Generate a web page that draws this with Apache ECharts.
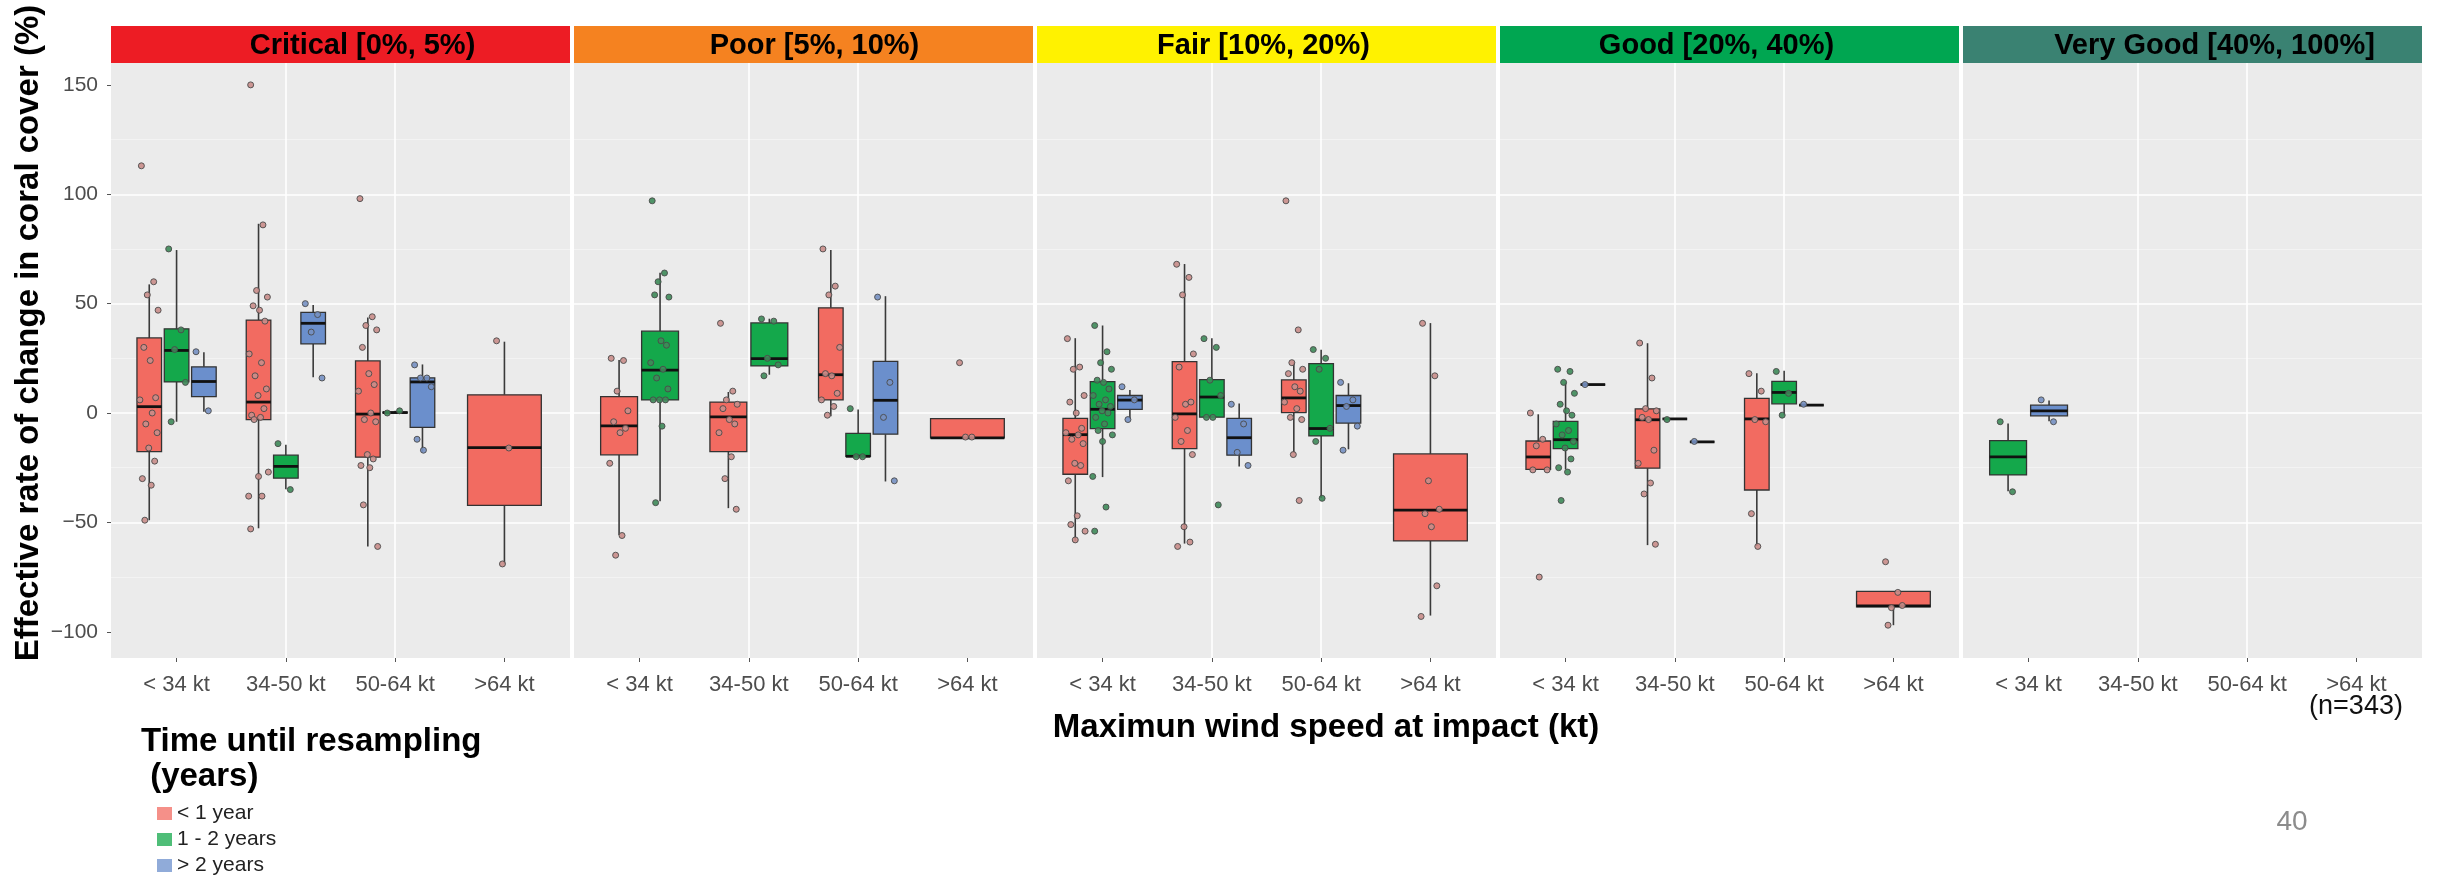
<!DOCTYPE html>
<html>
<head>
<meta charset="utf-8">
<script src="https://cdn.jsdelivr.net/npm/echarts@6/dist/echarts.min.js"></script>
<style>
  html, body { margin: 0; padding: 0; background: #fff; }
  #chart { width: 2450px; height: 879px; }
</style>
</head>
<body>
<div id="chart"></div>
<script>
// reef condition facets and wind categories
const panelNames = ['Critical [0%, 5%)', 'Poor [5%, 10%)', 'Fair [10%, 20%)', 'Good [20%, 40%)', 'Very Good [40%, 100%]']
const windCats = ['< 34 kt', '34-50 kt', '50-64 kt', '>64 kt']
const groupNames = ['< 1 year', '1 - 2 years', '> 2 years']
const yTicks = [-100, -50, 0, 50, 100, 150]

// box stats: [panel, wind category, lower whisker, Q1, median, Q3, upper whisker]
const boxLt1 = [
  [0, 0, -49, -17.7, 2.9, 34.3, 58.8],
  [0, 1, -52.7, -3, 5, 42.5, 86.5],
  [0, 2, -61, -20.2, -0.5, 23.8, 43.7],
  [0, 3, -69, -42.2, -15.8, 8.3, 32.6],
  [1, 0, -55.8, -19.1, -5.9, 7.5, 24.2],
  [1, 1, -43.5, -17.7, -1.8, 5, 9.6],
  [1, 2, -1.5, 6, 17.5, 48.1, 74.5],
  [1, 3, -11.4, -11.4, -11.4, -2.6, -2.6],
  [2, 0, -58.5, -28, -9.9, -2.5, 34.2],
  [2, 1, -59.7, -16.3, -0.4, 23.5, 68.1],
  [2, 2, -18.2, 0.2, 6.9, 15.1, 23.3],
  [2, 3, -92.6, -58.5, -44.4, -18.7, 41.1],
  [3, 0, -25.8, -25.8, -20.1, -12.8, -0.6],
  [3, 1, -60.4, -25.2, -3.1, 1.9, 31.9],
  [3, 2, -60.8, -35.2, -2.7, 6.7, 18.2],
  [3, 3, -97, -88.6, -88.2, -81.5, -81.5],
]
const box1to2 = [
  [0, 0, -4, 14.2, 28.6, 38.5, 74.5],
  [0, 1, -34.8, -29.8, -24.4, -19.3, -14.5],
  [0, 2, 0, 0, 0.2, 0.4, 1],
  [1, 0, -40.3, 6, 19.6, 37.4, 64.1],
  [1, 1, 17.5, 21.5, 24.9, 41.2, 43.1],
  [1, 2, -19.8, -19.8, -19.8, -9.3, 1.6],
  [2, 0, -29.3, -7.1, 1.7, 14.3, 40],
  [2, 1, -2.1, -1.9, 7.3, 15.3, 34.2],
  [2, 2, -38.8, -10.5, -7.1, 22.6, 28.9],
  [3, 0, -25.8, -16.3, -12.2, -3.8, 14],
  [3, 1, -2.7, -2.7, -2.7, -2.7, -2.7],
  [3, 2, -1, 4.2, 9.4, 14.5, 19.3],
  [4, 0, -35.8, -28.3, -20.1, -12.6, -4.8],
]
const boxGt2 = [
  [0, 0, 0.6, 7.5, 14.4, 21.1, 27.8],
  [0, 1, 16.3, 31.6, 41, 46, 49.4],
  [0, 2, -17.7, -6.6, 14.2, 16.1, 22.2],
  [1, 2, -31.3, -9.7, 5.8, 23.6, 53.4],
  [2, 0, -2.9, 1.7, 5.9, 8, 10.5],
  [2, 1, -24.5, -19.3, -11.3, -2.5, 4.4],
  [2, 2, -16.6, -4.6, 3.4, 8, 13.6],
  [3, 0, 13, 13, 13, 13, 13],
  [3, 1, -13.2, -13.2, -13.2, -13.2, -13.2],
  [3, 2, 3.6, 3.6, 3.6, 3.6, 3.6],
  [4, 0, -3.8, -1.3, 1, 3.6, 5.7],
]

// observations: [panel, wind category, values]
const ptsLt1 = [
  [0, 0, [113, 60, 54, 47, 30, 24, 7, 6, 0, -5, -9, -16, -22, -30, -33, -49]],
  [0, 1, [150, 86, 56, 53, 49, 47, 42, 27, 23, 17, 11, 8, 2, -1, -2, -3, -27, -29, -38, -38, -53]],
  [0, 2, [98, 44, 40, 38, 30, 18, 13, 10, 0, -3, -4, -19, -21, -24, -25, -42, -61]],
  [0, 3, [33, -16, -69]],
  [1, 0, [25, 24, 10, 1, -4, -9, -7, -23, -56, -65]],
  [1, 1, [41, 10, 6, 4, 2, -3, -5, -9, -20, -30, -44]],
  [1, 2, [75, 58, 54, 30, 18, 17, 9, 6, 3, -1]],
  [1, 3, [23, -11, -11]],
  [2, 0, [34, 21, 20, 8, 5, 0, -7, -9, -10, -12, -14, -23, -24, -31, -47, -51, -54, -58]],
  [2, 1, [68, 62, 54, 27, 21, 4, 5, -2, -8, -13, -19, -52, -59, -61]],
  [2, 2, [97, 38, 23, 20, 18, 12, 10, 5, 2, -2, -3, -19, -40]],
  [2, 3, [41, 17, -31, -44, -46, -52, -79, -93]],
  [3, 0, [0, -12, -15, -26, -26, -75]],
  [3, 1, [32, 16, 2, 1, -2, -3, -17, -23, -32, -37, -60]],
  [3, 2, [18, 10, -3, -4, -46, -61]],
  [3, 3, [-68, -82, -89, -88, -97]],
]
const pts1to2 = [
  [0, 0, [75, 38, 29, 14, -4]],
  [0, 1, [-14, -35]],
  [0, 2, [0, 1]],
  [1, 0, [97, 64, 60, 53, 54, 33, 31, 23, 20, 16, 11, 6, 6, 6, -6, -41]],
  [1, 1, [43, 42, 25, 22, 17]],
  [1, 2, [2, -20, -20]],
  [2, 0, [40, 28, 23, 20, 15, 14, 11, 8, 6, 4, 3, 1, 0, -2, -5, -8, -10, -13, -29, -43, -54]],
  [2, 1, [34, 30, 15, 8, -2, -2, -42]],
  [2, 2, [29, 25, 20, -7, -13, -39]],
  [3, 0, [20, 19, 14, 9, 4, 1, -1, -5, -8, -10, -13, -16, -21, -25, -27, -40]],
  [3, 1, [-3]],
  [3, 2, [19, 9, -1]],
  [4, 0, [-4, -36]],
]
const ptsGt2 = [
  [0, 0, [28, 1]],
  [0, 1, [50, 45, 37, 16]],
  [0, 2, [22, 16, 16, 12, -12, -17]],
  [1, 2, [53, 14, -2, -31]],
  [2, 0, [12, 6, -3]],
  [2, 1, [4, -5, -18, -24]],
  [2, 2, [14, 6, 3, -6, -17]],
  [3, 0, [13]],
  [3, 1, [-13]],
  [3, 2, [4]],
  [4, 0, [6, -4]],
]

// layout / style
const PANEL_LEFT = 111
const PANEL_STEP = 463
const PANEL_W = 459
const PANEL_TOP = 63
const PANEL_H = 595
const STRIP_TOP = 26
const stripTextShift = [22, 11, -3, -13, 22]
const stripColors = ['#ED1C24', '#F58220', '#FFF200', '#00A651', '#3A8272']
const boxColors = ['#F26B61', '#14A84B', '#6B8FCC']
const dotColors = ['#C98D89', '#3E8A59', '#7690C2']
const FONT = '"Liberation Sans", Arial, sans-serif'
const JITTER = [-0.8, 0.45, -0.2, 0.9, -0.55, 0.1, 0.65, -0.95, 0.3, -0.35, 0.8, -0.05, 0.55, -0.7, 0.2, -0.45, 1, 0, -1, 0.35]

const boxSets = [boxLt1, box1to2, boxGt2]
const ptSets = [ptsLt1, pts1to2, ptsGt2]

// which groups are present in each panel/category, for dodging
const present = {}
boxSets.forEach((set, g) => {
  set.forEach((r) => {
    const k = r[0] + '_' + r[1]
    ;(present[k] = present[k] || []).push(g)
  })
})

const dodge = (p, c, g) => {
  const list = present[p + '_' + c]
  const slot = 0.75 / list.length
  return { x: c + 1 - 0.375 + slot * (list.indexOf(g) + 0.5), w: slot * 0.9 }
}

const renderBox = (params, api) => {
  const x = api.value(0)
  const lo = api.coord([x, api.value(1)])
  const q1 = api.coord([x, api.value(2)])
  const med = api.coord([x, api.value(3)])
  const q3 = api.coord([x, api.value(4)])
  const hi = api.coord([x, api.value(5)])
  const half = api.size([api.value(6), 0])[0] / 2
  const cx = q1[0]
  const lineStyle = { stroke: '#3a3a3a', lineWidth: 1.6 }
  return {
    type: 'group',
    children: [
      { type: 'line', shape: { x1: cx, y1: q3[1], x2: cx, y2: hi[1] }, style: lineStyle },
      { type: 'line', shape: { x1: cx, y1: q1[1], x2: cx, y2: lo[1] }, style: lineStyle },
      {
        type: 'rect',
        shape: { x: cx - half, y: q3[1], width: half * 2, height: q1[1] - q3[1] },
        style: { fill: api.visual('color'), stroke: '#333', lineWidth: 1.3 },
      },
      {
        type: 'line',
        shape: { x1: cx - half, y1: med[1], x2: cx + half, y2: med[1] },
        style: { stroke: '#111', lineWidth: 2.8 },
      },
    ],
  }
}

const grids = []
const xAxes = []
const yAxes = []
const series = []
const graphics = []

panelNames.forEach((name, p) => {
  const left = PANEL_LEFT + p * PANEL_STEP
  grids.push({
    left: left,
    top: PANEL_TOP,
    width: PANEL_W,
    height: PANEL_H,
    show: true,
    backgroundColor: '#EBEBEB',
    borderWidth: 0,
  })
  xAxes.push({
    type: 'value',
    gridIndex: p,
    min: 0.4,
    max: 4.6,
    minInterval: 1,
    maxInterval: 1,
    axisLine: { show: false, onZero: false },
    axisTick: { show: true, length: 4, lineStyle: { color: '#555' }, customValues: [1, 2, 3, 4] },
    axisLabel: {
      customValues: [1, 2, 3, 4],
      formatter: (v) => windCats[Math.round(v) - 1] || '',
      fontSize: 22,
      fontFamily: FONT,
      color: '#4D4D4D',
      margin: 16,
    },
    splitLine: { show: true, showMinLine: false, showMaxLine: false, lineStyle: { color: '#fff', width: 1.6 } },
  })
  yAxes.push({
    type: 'value',
    gridIndex: p,
    min: -112,
    max: 160,
    minInterval: 50,
    maxInterval: 50,
    axisLine: { show: false, onZero: false },
    axisTick: { show: p === 0, length: 4, lineStyle: { color: '#555' }, customValues: yTicks },
    axisLabel: {
      show: p === 0,
      customValues: yTicks,
      formatter: (v) => (v < 0 ? '\u2212' + Math.abs(v) : String(v)),
      fontSize: 21,
      fontFamily: FONT,
      color: '#4D4D4D',
      margin: 13,
    },
    splitLine: { show: true, showMinLine: false, showMaxLine: false, lineStyle: { color: '#fff', width: 1.6 } },
    minorTick: { show: false, splitNumber: 2 },
    minorSplitLine: { show: true, lineStyle: { color: '#F5F5F5', width: 0.8 } },
  })

  // facet strip
  graphics.push({
    type: 'rect',
    shape: { x: left, y: STRIP_TOP, width: PANEL_W, height: PANEL_TOP - STRIP_TOP },
    style: { fill: stripColors[p] },
  })
  graphics.push({
    type: 'text',
    x: left + PANEL_W / 2 + stripTextShift[p],
    y: (STRIP_TOP + PANEL_TOP) / 2 + 1,
    style: {
      text: name,
      fontSize: 29,
      fontWeight: 'bold',
      fontFamily: FONT,
      fill: '#000',
      align: 'center',
      verticalAlign: 'middle',
      textAlign: 'center',
      textVerticalAlign: 'middle',
    },
  })

  boxSets.forEach((set, g) => {
    const rows = set
      .filter((r) => r[0] === p)
      .map((r) => {
        const d = dodge(p, r[1], g)
        return [d.x, r[2], r[3], r[4], r[5], r[6], d.w]
      })
    series.push({
      type: 'custom',
      name: groupNames[g],
      xAxisIndex: p,
      yAxisIndex: p,
      renderItem: renderBox,
      encode: { x: 0, y: [1, 2, 3, 4, 5] },
      itemStyle: { color: boxColors[g] },
      data: rows,
      z: 2,
    })
  })
})

panelNames.forEach((name, p) => {
  ptSets.forEach((set, g) => {
    const pts = []
    set
      .filter((r) => r[0] === p)
      .forEach((r) => {
        const d = dodge(p, r[1], g)
        r[2].forEach((v, i) => {
          pts.push([d.x + JITTER[i % JITTER.length] * 0.09, v])
        })
      })
    series.push({
      type: 'scatter',
      name: groupNames[g],
      xAxisIndex: p,
      yAxisIndex: p,
      symbol: 'circle',
      symbolSize: 6,
      itemStyle: { color: dotColors[g], borderColor: '#4a4a4a', borderWidth: 1, opacity: 0.9 },
      data: pts,
      z: 3,
    })
  })
})

// titles and annotations
const centerText = (x, y, text, size, extra) => ({
  type: 'text',
  x: x,
  y: y,
  ...extra,
  style: {
    text: text,
    fontSize: size,
    fontFamily: FONT,
    fill: '#000',
    align: 'center',
    verticalAlign: 'middle',
    textAlign: 'center',
    textVerticalAlign: 'middle',
    ...(extra && extra.styleExtra),
  },
})

graphics.push(centerText(29, 333, 'Effective rate of change in coral cover (%)', 33, {
  rotation: Math.PI / 2,
  styleExtra: { fontWeight: 'bold' },
}))
graphics.push(centerText(1326, 728, 'Maximun wind speed at impact (kt)', 33, { styleExtra: { fontWeight: 'bold' } }))
graphics.push(centerText(2356, 707, '(n=343)', 27, { styleExtra: { fill: '#111' } }))
graphics.push(centerText(2292, 822, '40', 28, { styleExtra: { fill: '#8C8C8C' } }))
graphics.push({
  type: 'text',
  x: 141,
  y: 724,
  style: {
    text: 'Time until resampling\n (years)',
    fontSize: 33,
    fontWeight: 'bold',
    fontFamily: FONT,
    lineHeight: 35,
    fill: '#000',
    align: 'left',
    verticalAlign: 'top',
  },
})

const chart = echarts.init(document.getElementById('chart'))
chart.setOption({
  animation: false,
  backgroundColor: '#fff',
  grid: grids,
  xAxis: xAxes,
  yAxis: yAxes,
  legend: {
    data: groupNames,
    orient: 'vertical',
    left: 157,
    top: 803,
    padding: 0,
    icon: 'rect',
    itemWidth: 15,
    itemHeight: 13,
    itemGap: 5,
    itemStyle: { opacity: 0.75 },
    textStyle: { fontSize: 21, lineHeight: 21, fontFamily: FONT, color: '#222' },
  },
  graphic: graphics,
  series: series,
})
</script>
</body>
</html>
